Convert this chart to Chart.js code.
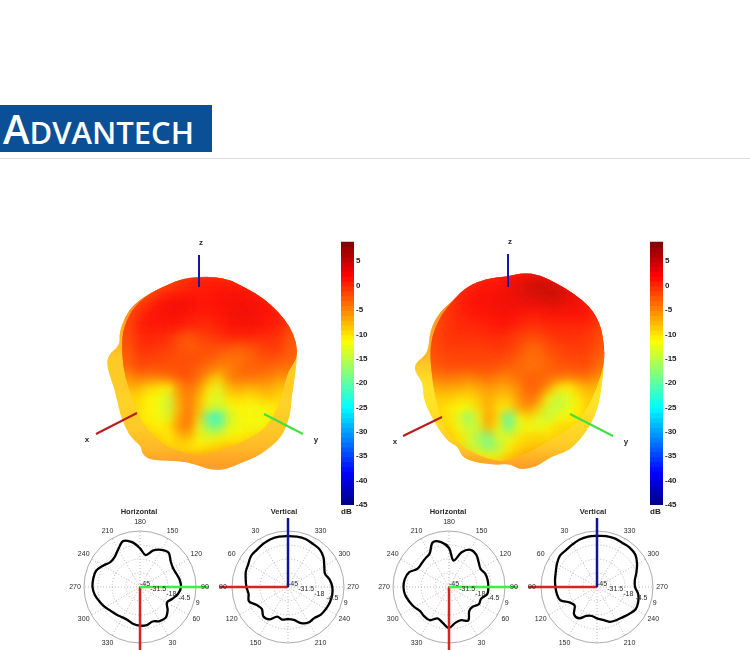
<!DOCTYPE html>
<html>
<head>
<meta charset="utf-8">
<title>Advantech antenna radiation patterns</title>
<script src="https://cdn.jsdelivr.net/npm/chart.js@4"></script>
<style>
html,body{margin:0;padding:0;background:#fff;width:750px;height:650px;overflow:hidden;position:relative;font-family:"Liberation Sans",Arial,sans-serif}
canvas{position:absolute;filter:blur(.35px)}
#logo{position:absolute;left:0;top:105px;width:212px;height:47px;background:#0b4f96;color:#fff;overflow:hidden}
#logo div{position:absolute;left:3px;top:5px;font:600 31px "Open Sans","Liberation Sans",Arial,sans-serif;white-space:nowrap;line-height:38px}
#logo b{font-weight:600;font-size:40px}
#rule{position:absolute;left:0;top:158px;width:750px;height:1px;background:#dcdcdc}
</style>
</head>
<body>
<div id="logo"><div><b>A</b>DVANTECH</div></div>
<div id="rule"></div>
<canvas id="blobA" width="280" height="260" style="left:70px;top:230px"></canvas>
<canvas id="barA" width="40" height="282" style="left:341px;top:235px"></canvas>
<canvas id="horA" width="170" height="150" style="left:55px;top:503px"></canvas>
<canvas id="verA" width="170" height="150" style="left:203px;top:503px"></canvas>
<canvas id="blobB" width="280" height="260" style="left:380px;top:230px"></canvas>
<canvas id="barB" width="40" height="282" style="left:650px;top:235px"></canvas>
<canvas id="horB" width="170" height="150" style="left:364px;top:503px"></canvas>
<canvas id="verB" width="170" height="150" style="left:512px;top:503px"></canvas>
<script>
// Polar cuts: gain in dB, one value every 10 degrees running clockwise from the top of each plot
const horizontalAngles = [180,170,160,150,140,130,120,110,100,90,80,70,60,50,40,30,20,10,0,350,340,330,320,310,300,290,280,270,260,250,240,230,220,210,200,190];
const verticalAngles = [0,350,340,330,320,310,300,290,280,270,260,250,240,230,220,210,200,190,180,170,160,150,140,130,120,110,100,90,80,70,60,50,40,30,20,10];
const horizontalA = [-7.7,-13.7,-7.4,-3.6,-2,-6.4,-8.3,-7.7,-6.1,-5.5,-7.7,-11.8,-15,-10.2,-6.4,-7.1,-9.6,-7.7,-7.7,-8.7,-10.9,-11.2,-10.2,-8.7,-6.1,-3.6,-0.8,0.8,0.8,0.2,-3.9,-7.7,-7.1,-3,2.1,-1.1];
const verticalA = [4,4.3,4.3,3,2.4,-0.4,-4.6,-7.1,-4.2,-2.3,-1.7,-2,-2.7,-3.6,-5.8,-5.5,-8,-12.8,-14,-13.1,-14.7,-9,-8,-12.1,-10.2,-4.9,-6.4,-4.9,-3.6,-1.7,-0.8,1.5,1.8,3,4,4.3];
const horizontalB = [-7.4,-19.1,-9.3,-3.6,-4.2,-7.7,-9.9,-7.7,-7.1,-7.1,-7.4,-12.1,-11.8,-15.3,-14.7,-7.7,-10.9,-9.9,-5.5,-9.9,-12.8,-8,-8,-8.7,-6.4,-4.2,-2,-1.1,-1.7,-3.9,-9.9,-10.2,-9.3,-7.7,0.8,-1.1];
const verticalB = [4.3,4.9,4.9,4,4.3,3.3,-0.4,-4.6,-8,-8.3,-4.6,-2.7,-2,-4.6,-6.8,-8,-9.3,-12.8,-14.7,-16.6,-15.3,-10.2,-10.6,-16.9,-15,-7.4,-5.8,-4.9,-3.9,-2.7,-0.4,1.8,1.5,2.4,3.7,4.3];
const radialMin = -45;
const radialMax = 9;
const radialStep = 13.5;
const axisReach = 21.5;
const angleLabelStep = 30;

// 3D pattern, front lobe: dB colour read on a coarse view grid (rows top to bottom)
const shadeA = [
[-1,-1,-1,-1,-1,-1,-1,-1,-1,-1,-1,-1,-1,-1,-1,-1,-1,-1,-1,-1,-1],
[-1,-1,-1,-1,-1,-1,-1,-1,-.5,.5,1,1,1,0,-1,-1,-1,-1,-1,-1,-1],
[-1.5,-1.5,-1.5,-1.5,-1.5,-1.5,-1,-.5,.5,1,1.5,1.5,2,2,2,1.5,1,0,0,0,0],
[-1.5,-1.5,-1.5,-1.5,-1.5,-1,1,2,2.3,2.3,2,2,2.3,2.6,2.6,2.4,2,1,0,0,0],
[-1,-1,-1,-1,-.5,1.5,2.3,3,3,2.6,2,2,2.3,2.6,3,3.2,2.6,2.2,1,0,0],
[-1,-1,-1,-1,1,2,2.3,2.6,2.6,2,1.5,1.5,2,2.6,3,3,2.6,2.2,1.8,0,-1],
[-1,-1,-1,-1,1.5,2,2,2,2,1,1,1,1.5,2.3,2.6,2.6,2.3,2,1.5,-.5,-1],
[-1,-1,-1,-1,1,1.5,1,1,-1,-2,-.5,0,.5,1.5,1.5,1.5,1,1,.5,-1,-2],
[-1.5,-1.5,-1.5,-1.5,.5,1,.5,0,-1,-2,-1.5,-1,-1,-1.5,-2,-1.5,-.5,0,.5,-2,-2],
[-2,-2,-2,-2,0,0,-.5,-.5,-1,-1,-1,-1.5,-2.5,-3,-3,-2.5,-1.5,-1,-1,-2,-2],
[-2.5,-2.5,-2.5,-2.5,-.5,-1,-1,-1,-1,-1,-2,-3,-4,-4,-3,-2,-2,-2,-3,-3,-3],
[-5,-5,-5,-5,-3.5,-4,-3.5,-3,-1.5,-1,-3,-6,-9,-4,-3,-3,-3.5,-4,-5,-5,-5],
[-7,-7,-7,-7,-7,-9,-10,-11,-5,-3,-5,-10,-13,-7,-6,-7,-6.5,-6,-8,-8,-8],
[-9,-9,-9,-9,-9,-11,-12,-14,-6,-3,-7,-12,-14,-10,-9,-10,-9,-8,-9,-9,-9],
[-9,-9,-9,-9,-9.5,-11,-12,-15,-7,-3,-7.5,-13,-14,-12,-11,-12,-12,-11,-10,-9,-9],
[-9,-9,-9,-9,-10,-11,-12,-13,-6,-2.5,-9,-22,-25,-14,-12,-11,-12,-12,-10,-8,-8],
[-9,-9,-9,-9,-9,-10,-11,-10,-5,-3,-12,-18,-20,-13,-12,-12,-12,-11,-7,-7,-7],
[-8,-8,-8,-8,-7,-8,-9,-11,-8,-7,-12,-13,-12,-11,-11,-10,-9,-8,-7,-6,-6],
[-7,-7,-7,-7,-7,-7,-7.5,-9,-9.5,-10,-11,-10,-9,-8,-8,-7,-6,-5,-5,-5,-5],
[-6,-6,-6,-6,-6,-6,-6,-7,-7,-7,-6,-6,-6,-5,-5,-5,-5,-4,-4,-4,-4],
[-6,-6,-6,-6,-6,-6,-6,-6,-6,-6,-6,-6,-6,-6,-6,-6,-6,-6,-6,-6,-6]
];
const shadeB = [
[1.5,1.5,1.5,1.5,1.5,1.5,1.5,1.5,1.5,1.5,1.5,1.5,1.5,1.5,1.5,1.5,1.5,1.5,1.5,1.5,1.5],
[-1,-1,-1,-1,-1,-1,-.5,.5,1,1.5,2,3,3.5,4,3,2,1,1,1,1,1],
[-1,-1,-1,-1,-1,.5,1,2,2,2.5,3,4,5,5.5,5.5,5,3.5,2,1,1,1],
[-1,-1,-1,-1,-1,1,2,2.5,2.5,3,3,3.5,4,4.5,5,5,4,3,1,0,0],
[-1,-1,-1,-1,0,1.5,2,2.5,2.5,3,3,3,3,3,3.5,3.5,3,3,2,0,0],
[-1,-1,-1,-1,.5,1,1.5,2,2,2.5,2.5,2,1.5,1.5,2,2,2,2,2,0,0],
[-1,-1,-1,-1,.5,1,1,1,1.5,2,2,1,.5,.5,1,1,1,1,1,-.5,-.5],
[-1,-1,-1,-.5,.5,.5,.5,.5,1,1,.5,-.5,-1,-1,0,.5,.5,.5,0,-1,-1],
[-1.5,-1.5,-1.5,-.5,0,0,0,0,0,.5,0,-1,-2.5,-2.5,-1,-.5,0,0,0,-1.5,-1.5],
[-1.5,-1.5,-1.5,-1,-.5,-.5,-.5,-.5,-.5,-.5,-1,-2,-3,-3,-2,-1,-.5,-.5,-.5,-2.5,-2.5],
[-2,-2,-2,-1.5,-1,-1,-1,-1,-1,-1.5,-2,-2.5,-3,-3,-2,-1.5,-1.5,-1,-1,-3,-3],
[-4,-4,-4,-3.5,-3,-3.5,-4,-3,-2.5,-4,-4,-2.5,-2,-2,-2.5,-3,-3.5,-3,-3,-5,-5],
[-7,-7,-7,-6,-6,-6,-7,-6,-5,-6,-6,-4,-2,-2,-5,-10,-11,-8,-6,-8,-8],
[-9,-9,-9,-8,-8,-9,-9,-8,-6,-8,-8,-5,-2.5,-4,-12,-15,-13,-10,-8,-8,-8],
[-9,-9,-9,-9,-10,-11,-12,-9,-6,-10,-10,-6,-4,-8,-14,-15,-13,-11,-8,-8,-8],
[-9,-9,-9,-9,-10,-13,-19,-12,-5,-10,-24,-11,-9,-13,-15,-12,-11,-10,-8,-8,-8],
[-9,-9,-9,-9,-9,-12,-15,-14,-6,-11,-21,-13,-12,-13,-11,-9,-9,-9,-7,-7,-7],
[-8,-8,-8,-8,-8,-10,-13,-17,-20,-13,-13,-10,-9,-9,-9,-9,-8,-7,-7,-7,-7],
[-8,-8,-8,-8,-8,-9,-14,-15,-19,-16,-11,-9,-8,-8,-8,-7,-6,-6,-6,-6,-6],
[-8,-8,-8,-8,-8,-8,-8,-11,-11,-12,-8,-7,-6,-5,-5,-5,-5,-5,-5,-5,-5],
[-7,-7,-7,-7,-7,-7,-7,-7,-7,-7,-7,-7,-7,-7,-7,-7,-7,-7,-7,-7,-7]
];
// Rear lobes showing around the front one: dB colour per grid row
const rimA = [-3,-3,-4,-4,-4,-5,-6,-7,-7,-8,-8,-8,-8,-8.5,-8.5,-8,-8,-7.5,-7,-6,-5];
const rimB = [-3,-3,-4,-4,-4.5,-5,-5.5,-6,-6.5,-7,-8,-9,-9.5,-9.5,-9.5,-9,-9,-8.5,-8,-6.5,-5];
// Silhouettes in view-grid units
const silhouetteA = [[9.93,.67],[11.33,.67],[13,1],[14.67,1.83],[16.33,2.83],[17.83,4.17],[19,5.67],[19.67,7.33],[19.67,9.33],[19.33,11.67],[19.17,12.67],[19,14.67],[18.33,16.33],[17.67,17.17],[16.67,18],[15.67,18.67],[14,19.33],[12.67,19.93],[11.33,20],[10.33,19.73],[8.67,19.17],[7,19.07],[5,19],[4.17,18.33],[4.17,17.67],[3.17,16.83],[2.5,15.67],[2,14.33],[1.5,12],[.67,9.67],[.83,8.5],[2,7.5],[1.93,6.33],[2.5,4.67],[3.33,3.5],[4.67,2.5],[6.67,1.5],[8.33,.83]];
const silhouetteB = [[11.33,.27],[13,.5],[14.67,1.33],[16.33,2.33],[18,3.67],[19,5.33],[19.4,7.33],[19.4,9.33],[19.17,11.67],[18.83,13.67],[18,15.67],[16.67,17.33],[15.67,18.17],[14,18.67],[12.67,19.67],[11,20],[10,19.33],[8.33,19.5],[6.33,19.17],[5.17,18.67],[4.83,17.67],[3.83,17.17],[2.67,15.67],[1.33,13],[1.33,11.33],[.5,10.17],[.5,9.33],[1.83,8.33],[2,6],[3,4.17],[4.17,3.17],[5.67,1.67],[7.67,.83],[9.67,.67]];
const frontA = [[8.33,.83],[11.33,.67],[13,1],[14.67,1.83],[16.33,2.83],[17.83,4.17],[19,5.67],[19.67,7.33],[19.73,8.83],[18.83,10],[18.4,11.67],[17.83,13.67],[16.67,15.67],[15,16.83],[12.67,17.83],[10.33,18.5],[8.67,18.33],[6.67,17.67],[5,16.33],[3.83,14.5],[3.17,12.67],[2.5,10.67],[2.17,8.33],[2.27,6],[3.17,4],[4.67,2.5],[6.67,1.5]];
const frontB = [[11.33,.27],[13,.5],[14.67,1.33],[16.33,2.33],[18,3.67],[19,5.33],[19.4,7.33],[19.47,9.17],[18.73,11.67],[17.67,14],[16.33,15.67],[14.33,16.83],[12.67,17.83],[11,18.67],[9.33,19.17],[7.67,18.83],[5.83,18],[4.83,17.33],[3.67,16.33],[2.83,14],[2.33,11.67],[2,8.67],[2.17,6.67],[3,4.67],[4.33,3],[5.67,1.67],[7.67,.83],[9.67,.67]];
// 3D axes and their names, same units
const axesA = {x:[[-.4,16.4],[3.7,14.3]], y:[[16.4,14.4],[20.3,16.4]], z:[[9.9,-1.5],[9.9,1.7]]};
const axesB = {x:[[-.7,16.6],[3.2,14.7]], y:[[16,14.4],[20.3,16.6]], z:[[9.8,-1.6],[9.8,1.7]]};
const axisNamesA = {x:[-1.3,17], y:[21.6,17], z:[10.1,-2.7]};
const axisNamesB = {x:[-1.5,17.2], y:[21.6,17.2], z:[10,-2.8]};

// Colour bar
const barLevels = [-45,-44,-43,-42,-41,-40,-39,-38,-37,-36,-35,-34,-33,-32,-31,-30,-29,-28,-27,-26,-25,-24,-23,-22,-21,-20,-19,-18,-17,-16,-15,-14,-13,-12,-11,-10,-9,-8,-7,-6,-5,-4,-3,-2,-1,0,1,2,3,4,5,6,7,8];

function jet(v){
  const t = (v - radialMin) / (radialMax - radialMin);
  const c = k => Math.round(255 * Math.max(0, Math.min(1, 1.5 - Math.abs(4 * t - k))));
  return 'rgb(' + c(3) + ',' + c(2) + ',' + c(1) + ')';
}
const TEXT = '#2a2a2a';
const FONT = '"Liberation Sans",Arial,sans-serif';

function polarText(title, titleShift, hidden){ return {
  id: 'polarText',
  afterDraw(chart){
    const s = chart.scales.r, c = chart.ctx, labels = chart.data.labels;
    c.save();
    c.fillStyle = TEXT; c.textAlign = 'center'; c.textBaseline = 'middle';
    c.font = 'bold 7.5px ' + FONT;
    c.fillText(title, s.xCenter + titleShift, 9);
    c.font = '7px ' + FONT;
    labels.forEach((a, i) => {
      if (a % angleLabelStep === 0 && !hidden.includes(a)) {
        const p = s.getPointPosition(i, s.drawingArea + 9);
        c.fillText(String(a), p.x, p.y);
      }
    });
    s.ticks.forEach(t => {
      const p = s.getPointPosition(11, s.getDistanceFromCenterForValue(t.value));
      c.fillText(String(t.value), p.x + 5, p.y - 3);
    });
    c.restore();
  }
}; }

function polar(id, title, labels, values, spokes, hidden, titleShift){
  const spokeSets = spokes.map(sp => ({
    label: sp.name,
    data: labels.map(a => a === sp.angle ? axisReach : radialMin),
    borderColor: sp.color, borderWidth: 2.5, pointRadius: 0, fill: false, clip: false
  }));
  new Chart(document.getElementById(id), {
    type: 'radar',
    data: { labels, datasets: spokeSets.concat([{
      label: title, data: values, borderColor: '#000', borderWidth: 2.3, pointRadius: 0,
      fill: false, tension: 0.35, clip: false
    }]) },
    options: {
      responsive: false, animation: false, events: [],
      layout: { autoPadding: false, padding: { left: 29, right: 29, top: 28, bottom: 10 } },
      plugins: { legend: { display: false }, tooltip: { enabled: false } },
      scales: { r: {
        min: radialMin, max: radialMax,
        ticks: { display: false, stepSize: radialStep },
        pointLabels: { display: false },
        angleLines: { color: c => labels[c.index] % angleLabelStep === 0 ? '#9a9a9a' : 'transparent', lineWidth: .7, borderDash: [1, 2] },
        grid: { circular: true, color: c => c.tick && c.tick.value === radialMax ? '#888' : '#9a9a9a', lineWidth: .7 },
        border: { dash: c => c.tick && c.tick.value === radialMax ? [] : [1, 2] }
      } }
    },
    plugins: [polarText(title, titleShift, hidden)]
  });
}

const FRONT = 'front lobe', REAR = 'rear lobes';
function blob(id, grid, rim, outline, front, axes, names){
  const frontCells = [], rearCells = [];
  grid.forEach((row, r) => row.forEach((v, c) => {
    frontCells.push({ x: c, y: r, v });
    rearCells.push({ x: c, y: r, v: rim[r] });
  }));
  const line = (pts, color, label) => ({
    label, type: 'scatter', showLine: true, data: pts.map(p => ({ x: p[0], y: p[1] })),
    borderColor: color, borderWidth: 2, pointRadius: 0, fill: false
  });
  const cellSet = (label, cells) => ({
    label, data: cells, pointStyle: 'rect', pointRadius: 9, pointBorderWidth: 0,
    pointBackgroundColor: c => jet(cells[c.dataIndex].v)
  });
  new Chart(document.getElementById(id), {
    type: 'scatter',
    data: { datasets: [
      line(axes.z, '#1414a8', 'z'), line(axes.x, '#b81c1c', 'x'), line(axes.y, '#3fe03f', 'y'),
      cellSet(FRONT, frontCells), cellSet(REAR, rearCells)
    ] },
    options: {
      responsive: false, animation: false, events: [],
      plugins: { legend: { display: false }, tooltip: { enabled: false } },
      layout: { padding: 0, autoPadding: false },
      scales: {
        x: { type: 'linear', min: -3, max: 25, display: false },
        y: { type: 'linear', min: -4, max: 22, reverse: true, display: false }
      }
    },
    plugins: [{
      id: 'patternShade',
      beforeDatasetDraw(chart, args){
        const name = chart.data.datasets[args.index].label;
        if (name !== FRONT && name !== REAR) return;
        const c = chart.ctx, X = chart.scales.x, Y = chart.scales.y;
        const pts = (name === FRONT ? front : outline).map(p => [X.getPixelForValue(p[0]), Y.getPixelForValue(p[1])]);
        c.save();
        c.beginPath();
        pts.forEach((p, i) => {
          const q = pts[(i + 1) % pts.length];
          const mid = [(p[0] + q[0]) / 2, (p[1] + q[1]) / 2];
          if (i === 0) c.moveTo(mid[0], mid[1]);
          else c.quadraticCurveTo(p[0], p[1], mid[0], mid[1]);
        });
        const p0 = pts[0], p1 = pts[1];
        c.quadraticCurveTo(p0[0], p0[1], (p0[0] + p1[0]) / 2, (p0[1] + p1[1]) / 2);
        c.closePath();
        c.clip();
        c.filter = 'blur(5.5px)';
      },
      afterDatasetDraw(chart, args){
        const name = chart.data.datasets[args.index].label;
        if (name === FRONT || name === REAR) chart.ctx.restore();
      },
      afterDraw(chart){
        const c = chart.ctx, X = chart.scales.x, Y = chart.scales.y;
        c.save();
        c.font = 'bold 8px ' + FONT; c.fillStyle = TEXT; c.textAlign = 'center'; c.textBaseline = 'middle';
        Object.keys(names).forEach(k => c.fillText(k, X.getPixelForValue(names[k][0]), Y.getPixelForValue(names[k][1])));
        c.restore();
      }
    }]
  });
}

function colourBar(id){
  new Chart(document.getElementById(id), {
    type: 'bar',
    data: { datasets: [{
      data: barLevels.map(v => ({ x: 1, y: v + .5 })),
      backgroundColor: c => jet(barLevels[c.dataIndex] + .5),
      barThickness: 6, borderWidth: 0
    }] },
    options: {
      indexAxis: 'y', responsive: false, animation: false, events: [],
      layout: { autoPadding: false, padding: { top: 5 } },
      plugins: { legend: { display: false }, tooltip: { enabled: false } },
      scales: {
        y: { type: 'linear', position: 'right', offset: false, min: radialMin, max: radialMax,
          ticks: { stepSize: 5, includeBounds: false, autoSkip: false, padding: 2, color: '#222', font: { family: FONT, size: 8, weight: 'bold' } },
          grid: { display: false, drawTicks: false, offset: false }, border: { display: false },
          afterFit: s => { s.width = 27; } },
        x: { type: 'linear', min: 0, max: 1, ticks: { display: false }, grid: { display: false, drawTicks: false }, border: { display: false },
          title: { display: true, text: 'dB', align: 'start', color: '#222', padding: 0, font: { family: FONT, size: 8, weight: 'bold' } },
          afterFit: s => { s.height = 12; } }
      }
    }
  });
}

blob('blobA', shadeA, rimA, silhouetteA, frontA, axesA, axisNamesA);
blob('blobB', shadeB, rimB, silhouetteB, frontB, axesB, axisNamesB);
colourBar('barA');
colourBar('barB');
const RED = '#d42424', GREEN = '#3df03d', BLUE = '#12129c';
polar('horA', 'Horizontal', horizontalAngles, horizontalA, [{ name: 'y axis', angle: 90, color: GREEN }, { name: 'x axis', angle: 0, color: RED }], [0], -1);
polar('verA', 'Vertical', verticalAngles, verticalA, [{ name: 'z axis', angle: 0, color: BLUE }, { name: 'x axis', angle: 90, color: RED }], [0, 180], -4);
polar('horB', 'Horizontal', horizontalAngles, horizontalB, [{ name: 'y axis', angle: 90, color: GREEN }, { name: 'x axis', angle: 0, color: RED }], [0], -1);
polar('verB', 'Vertical', verticalAngles, verticalB, [{ name: 'z axis', angle: 0, color: BLUE }, { name: 'x axis', angle: 90, color: RED }], [0, 180], -4);
</script>
</body>
</html>
